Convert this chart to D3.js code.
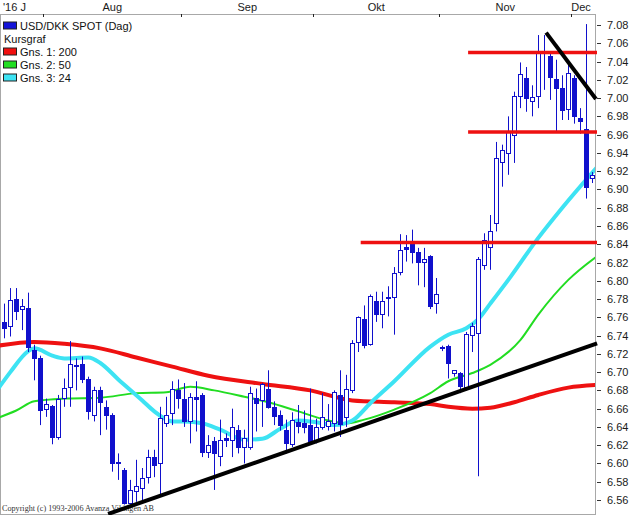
<!DOCTYPE html>
<html><head><meta charset="utf-8">
<script src="https://cdn.jsdelivr.net/npm/d3@7"></script>
<style>
html,body{margin:0;padding:0;background:#fff;overflow:hidden}
svg{display:block}
text{font-family:"Liberation Sans",Arial,sans-serif}
</style></head><body>
<svg id="c" width="631" height="515"></svg>
<script>
// ---- data ----
const opens  = [6.755,6.750,6.780,6.769,6.770,6.724,6.715,6.660,6.663,6.629,6.672,6.684,6.708,6.709,6.693,6.653,6.680,6.662,6.653,6.602,6.593,6.557,6.570,6.573,6.585,6.607,6.600,6.644,6.655,6.680,6.671,6.647,6.673,6.675,6.612,6.625,6.608,6.628,6.626,6.637,6.618,6.618,6.672,6.669,6.682,6.662,6.653,6.637,6.621,6.645,6.644,6.642,6.626,6.640,6.641,6.644,6.675,6.651,6.680,6.733,6.758,6.731,6.778,6.764,6.781,6.782,6.810,6.837,6.841,6.831,6.821,6.827,6.776,6.728,6.729,6.699,6.699,6.684,6.741,6.743,6.817,6.837,6.863,6.930,6.940,6.960,7.002,7.022,6.997,7.002,7.051,7.046,7.021,7.011,6.988,7.022,6.978,6.966,6.913];
const highs  = [6.775,6.792,6.792,6.780,6.787,6.730,6.718,6.671,6.664,6.675,6.693,6.734,6.715,6.717,6.695,6.684,6.684,6.669,6.655,6.611,6.595,6.582,6.604,6.595,6.615,6.615,6.662,6.673,6.690,6.692,6.688,6.677,6.690,6.677,6.631,6.629,6.648,6.633,6.660,6.642,6.637,6.684,6.682,6.688,6.702,6.668,6.658,6.648,6.656,6.664,6.658,6.682,6.649,6.677,6.665,6.680,6.702,6.697,6.735,6.761,6.773,6.785,6.788,6.788,6.794,6.815,6.851,6.850,6.856,6.836,6.836,6.828,6.803,6.729,6.730,6.702,6.700,6.744,6.754,6.826,6.852,6.872,6.952,6.949,6.980,7.007,7.039,7.034,7.014,7.069,7.069,7.051,7.042,7.025,7.040,7.025,6.989,7.081,6.919];
const lows   = [6.737,6.739,6.757,6.746,6.722,6.691,6.642,6.651,6.621,6.626,6.662,6.662,6.680,6.688,6.648,6.646,6.631,6.637,6.591,6.582,6.555,6.556,6.558,6.560,6.578,6.585,6.566,6.640,6.642,6.660,6.640,6.622,6.635,6.607,6.606,6.571,6.597,6.618,6.607,6.611,6.600,6.615,6.635,6.640,6.660,6.642,6.636,6.611,6.618,6.633,6.633,6.622,6.622,6.637,6.636,6.635,6.629,6.640,6.677,6.722,6.726,6.729,6.755,6.748,6.761,6.741,6.806,6.821,6.819,6.795,6.793,6.769,6.764,6.723,6.693,6.695,6.677,6.680,6.722,6.586,6.812,6.812,6.854,6.903,6.916,6.929,6.989,6.985,6.980,6.989,7.009,6.998,6.963,6.976,6.976,6.972,6.961,6.890,6.907];
const closes = [6.748,6.779,6.767,6.772,6.728,6.715,6.659,6.665,6.629,6.671,6.683,6.709,6.707,6.692,6.657,6.680,6.667,6.653,6.600,6.600,6.557,6.571,6.575,6.584,6.607,6.598,6.650,6.653,6.681,6.672,6.646,6.673,6.671,6.613,6.620,6.611,6.626,6.626,6.640,6.618,6.628,6.677,6.666,6.687,6.662,6.652,6.642,6.622,6.648,6.641,6.640,6.624,6.640,6.651,6.646,6.678,6.643,6.682,6.732,6.760,6.730,6.783,6.764,6.778,6.782,6.809,6.834,6.835,6.831,6.820,6.824,6.772,6.786,6.726,6.710,6.702,6.685,6.742,6.750,6.824,6.845,6.855,6.934,6.943,6.963,7.002,7.026,7.000,7.001,7.049,7.049,7.023,7.011,6.987,7.027,6.980,6.975,6.903,6.916];

// moving averages, read at these candle indices
const ma200Idx = [-1,5,10,16,22,28,34,43,51,58,65,71,74,78,81,85,89,94,99];
const ma200    = [6.729,6.733,6.731,6.726,6.716,6.706,6.696,6.687,6.680,6.669,6.667,6.665,6.662,6.660,6.661,6.667,6.675,6.683,6.686];
const ma50Idx  = [-1,2,5,10,16,22,27,31,35,40,44,49,54,57,60,65,71,74,78,81,86,89,94,99];
const ma50     = [6.650,6.658,6.668,6.671,6.672,6.677,6.678,6.684,6.680,6.673,6.667,6.657,6.647,6.644,6.648,6.659,6.677,6.690,6.699,6.708,6.735,6.763,6.801,6.828];
const ma24Idx  = [-1,1,4,5,8,10,14,16,19,23,25,28,30,33,36,40,43,46,49,52,55,58,61,65,71,74,77,79,81,84,89,93,99];
const ma24     = [6.682,6.700,6.723,6.726,6.718,6.715,6.716,6.710,6.692,6.669,6.657,6.646,6.646,6.644,6.637,6.626,6.627,6.638,6.647,6.645,6.642,6.647,6.666,6.690,6.728,6.741,6.748,6.758,6.775,6.801,6.847,6.880,6.926];

// drawn support/resistance levels and trend lines
const levelValues = [7.050, 6.963, 6.842];
const levelFromIdx = [77.3, 77.3, 59.4];
const trendFromIdx = [17.3, 90.3];
const trendFromVal = [6.5447, 7.0716];
const trendToIdx   = [98.8, 98.6];
const trendToVal   = [6.7315, 6.999];

const monthLabels   = ["'16 J","Aug","Sep","Okt","Nov","Dec"];
const monthStartIdx = [0,7,30,52,73,95];
const yTickValues = [6.56,6.58,6.60,6.62,6.64,6.66,6.68,6.70,6.72,6.74,6.76,6.78,6.80,6.82,6.84,6.86,6.88,6.90,6.92,6.94,6.96,6.98,7.00,7.02,7.04,7.06,7.08];

const legendLabels = ["USD/DKK SPOT (Dag)","Kursgraf","Gns. 1: 200","Gns. 2: 50","Gns. 3: 24"];
const legendColors = ["#1414d8",null,"#f01010","#22dd22","#3de3f3"];

// ---- drawing ----
const W = 631, H = 515;
const P = {l:0, t:14, r:595, b:514};
const svg = d3.select("#c");
const n = closes.length;
const x = d3.scaleLinear().domain([0, 98]).range([4.3, 592.3]);
const y = d3.scaleLinear().domain([6.56, 7.08]).range([500, 25]);
const BLUE = "#1010cc";

svg.append("defs").append("clipPath").attr("id","pc")
  .append("rect").attr("x",P.l).attr("y",P.t).attr("width",P.r-P.l).attr("height",P.b-P.t);

// frame
svg.append("rect").attr("x",P.l+0.5).attr("y",P.t+0.5).attr("width",P.r-P.l).attr("height",P.b-P.t)
  .attr("fill","none").attr("stroke","#a8a8a8");

// month ticks on top
const topAxis = d3.axisBottom(x).tickValues(monthStartIdx.slice(1).map(s=>s-0.5)).tickSize(3).tickFormat("");
const ta = svg.append("g").attr("transform",`translate(0,${P.t})`).call(topAxis);
ta.select(".domain").remove();
ta.selectAll("line").attr("stroke","#222").attr("shape-rendering","crispEdges");

// month labels
monthLabels.forEach((lab,i)=>{
  const s = monthStartIdx[i];
  const e = i < monthLabels.length-1 ? monthStartIdx[i+1] : null;
  let xx, anchor;
  if (i === 0) { xx = 3; anchor = "start"; }
  else if (e === null) { xx = x(s-0.5); anchor = "start"; }
  else { xx = (x(s-0.5)+x(e-0.5))/2; anchor = "middle"; }
  svg.append("text").attr("x",xx).attr("y",11).attr("text-anchor",anchor)
    .attr("font-size","11px").attr("fill","#1a1a1a").text(lab);
});

// right axis
const ra = svg.append("g").attr("transform",`translate(597,0)`)
  .call(d3.axisRight(y).tickValues(yTickValues).tickFormat(d3.format(".2f")).tickSize(4).tickPadding(6));
ra.select(".domain").remove();
ra.selectAll("line").attr("stroke","#333").attr("shape-rendering","crispEdges");
ra.selectAll("text").attr("font-size","11px").attr("fill","#1a1a1a")
  .style("font-family","'Liberation Sans',Arial,sans-serif");

// copyright
svg.append("text").attr("x",2).attr("y",510.5).attr("font-size","8.6px")
  .style("font-family","'Liberation Serif','Times New Roman',serif").attr("fill","#333")
  .attr("textLength",152).attr("lengthAdjust","spacingAndGlyphs")
  .text("Copyright (c) 1993-2006 Avanza Vikingen AB");

const plot = svg.append("g").attr("clip-path","url(#pc)");

function maLine(idx, vals, color, w){
  const pts = idx.map((k,i)=>[x(k), y(vals[i])]);
  plot.append("path").attr("d", d3.line().curve(d3.curveMonotoneX)(pts))
    .attr("fill","none").attr("stroke",color).attr("stroke-width",w)
    .attr("stroke-linejoin","round").attr("stroke-linecap","round");
}
maLine(ma200Idx, ma200, "#ee1111", 4);
maLine(ma50Idx, ma50, "#22dd22", 2);
maLine(ma24Idx, ma24, "#3de3f3", 4);

// candles
const cg = plot.append("g");
for (let i=0;i<n;i++){
  const cx = Math.round(x(i)) + 0.5;
  cg.append("line").attr("x1",cx).attr("x2",cx).attr("y1",y(highs[i])).attr("y2",y(lows[i]))
    .attr("stroke",BLUE).attr("stroke-width",1);
  const top = y(Math.max(opens[i],closes[i]));
  const bot = y(Math.min(opens[i],closes[i]));
  const up = closes[i] >= opens[i];
  cg.append("rect").attr("x",cx-2).attr("y",Math.round(top)+0.5)
    .attr("width",4).attr("height",Math.max(1,Math.round(bot)-Math.round(top)))
    .attr("fill", up ? "#fff" : BLUE).attr("stroke",BLUE).attr("stroke-width",1);
}

// levels
levelValues.forEach((v,i)=>{
  svg.append("line").attr("x1",x(levelFromIdx[i])).attr("x2",597)
    .attr("y1",y(v)).attr("y2",y(v)).attr("stroke","#ee1111").attr("stroke-width",3.5);
});
// trend lines
trendFromIdx.forEach((k,i)=>{
  svg.append("line").attr("x1",x(k)).attr("y1",y(trendFromVal[i]))
    .attr("x2",x(trendToIdx[i])).attr("y2",y(trendToVal[i]))
    .attr("stroke","#000").attr("stroke-width",4);
});

// legend
legendLabels.forEach((lab,i)=>{
  const by = 29.5 + 13*i;
  if (legendColors[i]) {
    svg.append("rect").attr("x",3.5).attr("y",by-7.5).attr("width",13).attr("height",7)
      .attr("fill",legendColors[i]).attr("stroke","#222").attr("stroke-width",1);
  }
  svg.append("text").attr("x", legendColors[i] ? 20 : 4).attr("y",by)
    .attr("font-size","11px").attr("fill","#111").text(lab);
});
</script>
</body></html>
